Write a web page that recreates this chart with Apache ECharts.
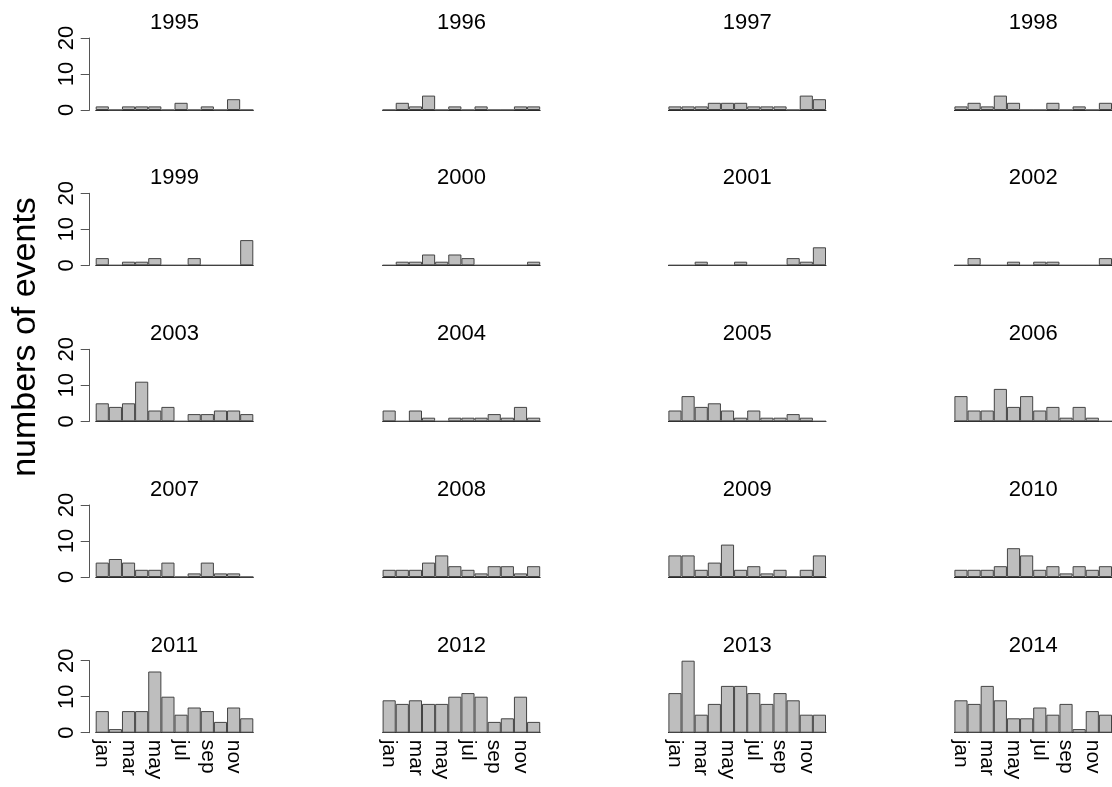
<!DOCTYPE html>
<html>
<head>
<meta charset="utf-8">
<script src="https://cdn.jsdelivr.net/npm/echarts@6/dist/echarts.min.js"></script>
<style>
  html, body { margin: 0; padding: 0; background: #ffffff; }
  #chart { width: 1112px; height: 787px; }
</style>
</head>
<body>
<div id="chart"></div>
<script>
// Monthly event counts, one small panel per year
const months = ['jan', 'feb', 'mar', 'apr', 'may', 'jun', 'jul', 'aug', 'sep', 'oct', 'nov', 'dec'];
const years = [1995, 1996, 1997, 1998, 1999, 2000, 2001, 2002, 2003, 2004,
               2005, 2006, 2007, 2008, 2009, 2010, 2011, 2012, 2013, 2014];

const ev1995 = [1, 0, 1, 1, 1, 0, 2, 0, 1, 0, 3, 0];
const ev1996 = [0, 2, 1, 4, 0, 1, 0, 1, 0, 0, 1, 1];
const ev1997 = [1, 1, 1, 2, 2, 2, 1, 1, 1, 0, 4, 3];
const ev1998 = [1, 2, 1, 4, 2, 0, 0, 2, 0, 1, 0, 2];
const ev1999 = [2, 0, 1, 1, 2, 0, 0, 2, 0, 0, 0, 7];
const ev2000 = [0, 1, 1, 3, 1, 3, 2, 0, 0, 0, 0, 1];
const ev2001 = [0, 0, 1, 0, 0, 1, 0, 0, 0, 2, 1, 5];
const ev2002 = [0, 2, 0, 0, 1, 0, 1, 1, 0, 0, 0, 2];
const ev2003 = [5, 4, 5, 11, 3, 4, 0, 2, 2, 3, 3, 2];
const ev2004 = [3, 0, 3, 1, 0, 1, 1, 1, 2, 1, 4, 1];
const ev2005 = [3, 7, 4, 5, 3, 1, 3, 1, 1, 2, 1, 0];
const ev2006 = [7, 3, 3, 9, 4, 7, 3, 4, 1, 4, 1, 0];
const ev2007 = [4, 5, 4, 2, 2, 4, 0, 1, 4, 1, 1, 0];
const ev2008 = [2, 2, 2, 4, 6, 3, 2, 1, 3, 3, 1, 3];
const ev2009 = [6, 6, 2, 4, 9, 2, 3, 1, 2, 0, 2, 6];
const ev2010 = [2, 2, 2, 3, 8, 6, 2, 3, 1, 3, 2, 3];
const ev2011 = [6, 1, 6, 6, 17, 10, 5, 7, 6, 3, 7, 4];
const ev2012 = [9, 8, 9, 8, 8, 10, 11, 10, 3, 4, 10, 3];
const ev2013 = [11, 20, 5, 8, 13, 13, 11, 8, 11, 9, 5, 5];
const ev2014 = [9, 8, 13, 9, 4, 4, 7, 5, 8, 1, 6, 5];

const yearCounts = [ev1995, ev1996, ev1997, ev1998, ev1999, ev2000, ev2001, ev2002,
                    ev2003, ev2004, ev2005, ev2006, ev2007, ev2008, ev2009, ev2010,
                    ev2011, ev2012, ev2013, ev2014];

const yTicks = [0, 10, 20];
const yTitle = 'numbers of events';

// Panel geometry (pixels)
const FONT = '"Liberation Sans", Arial, Helvetica, sans-serif';
const nCols = 4;
const colLeft = [95.7, 382.6, 668.4, 954.4];
const plotW = 157.6;
const rowBase = [110, 265.3, 421.3, 577, 732.7];
const plotH = 72;
const nRows = rowBase.length;

const grids = [], xAxes = [], yAxes = [], series = [], texts = [];

years.forEach((yr, i) => {
  const r = Math.floor(i / nCols);
  const c = i % nCols;
  const top = rowBase[r] - plotH;
  grids.push({ left: colLeft[c], top: top, width: plotW, height: plotH, containLabel: false });

  xAxes.push({
    type: 'category',
    gridIndex: i,
    data: months,
    boundaryGap: true,
    axisLine: { show: true, lineStyle: { color: '#2a2a2a', width: 1 } },
    axisTick: { show: false },
    axisLabel: {
      show: r === nRows - 1,
      interval: 1,
      rotate: -90,
      margin: 7,
      padding: [0, 0, 6, 0],
      fontSize: 21,
      fontFamily: FONT,
      color: '#000'
    },
    splitLine: { show: false }
  });

  yAxes.push({
    type: 'value',
    gridIndex: i,
    min: yTicks[0],
    max: yTicks[yTicks.length - 1],
    interval: yTicks[1] - yTicks[0],
    show: c === 0,
    offset: 6,
    axisLine: { show: true, lineStyle: { color: '#555', width: 1 } },
    axisTick: { show: true, length: 9, lineStyle: { color: '#555', width: 1 } },
    axisLabel: {
      rotate: 90,
      margin: 12,
      fontSize: 22,
      fontFamily: FONT,
      color: '#000'
    },
    splitLine: { show: false }
  });

  series.push({
    type: 'bar',
    xAxisIndex: i,
    yAxisIndex: i,
    data: yearCounts[i],
    barCategoryGap: '0%',
    silent: true,
    itemStyle: { color: '#bebebe', borderColor: '#444', borderWidth: 1 }
  });

  // panel title
  texts.push({
    type: 'text',
    x: colLeft[c] + plotW / 2,
    y: top - 15,
    silent: true,
    style: {
      text: String(yr),
      font: '22px ' + FONT,
      fill: '#000',
      align: 'center',
      verticalAlign: 'middle'
    }
  });
});

// shared y-axis title
texts.push({
  type: 'text',
  x: 26,
  y: 337,
  rotation: Math.PI / 2,
  silent: true,
  style: {
    text: yTitle,
    font: '34px ' + FONT,
    fill: '#000',
    align: 'center',
    verticalAlign: 'middle'
  }
});

const chart = echarts.init(document.getElementById('chart'), null, { renderer: 'canvas' });
chart.setOption({
  backgroundColor: '#ffffff',
  animation: false,
  grid: grids,
  xAxis: xAxes,
  yAxis: yAxes,
  series: series,
  graphic: texts
});
</script>
</body>
</html>
